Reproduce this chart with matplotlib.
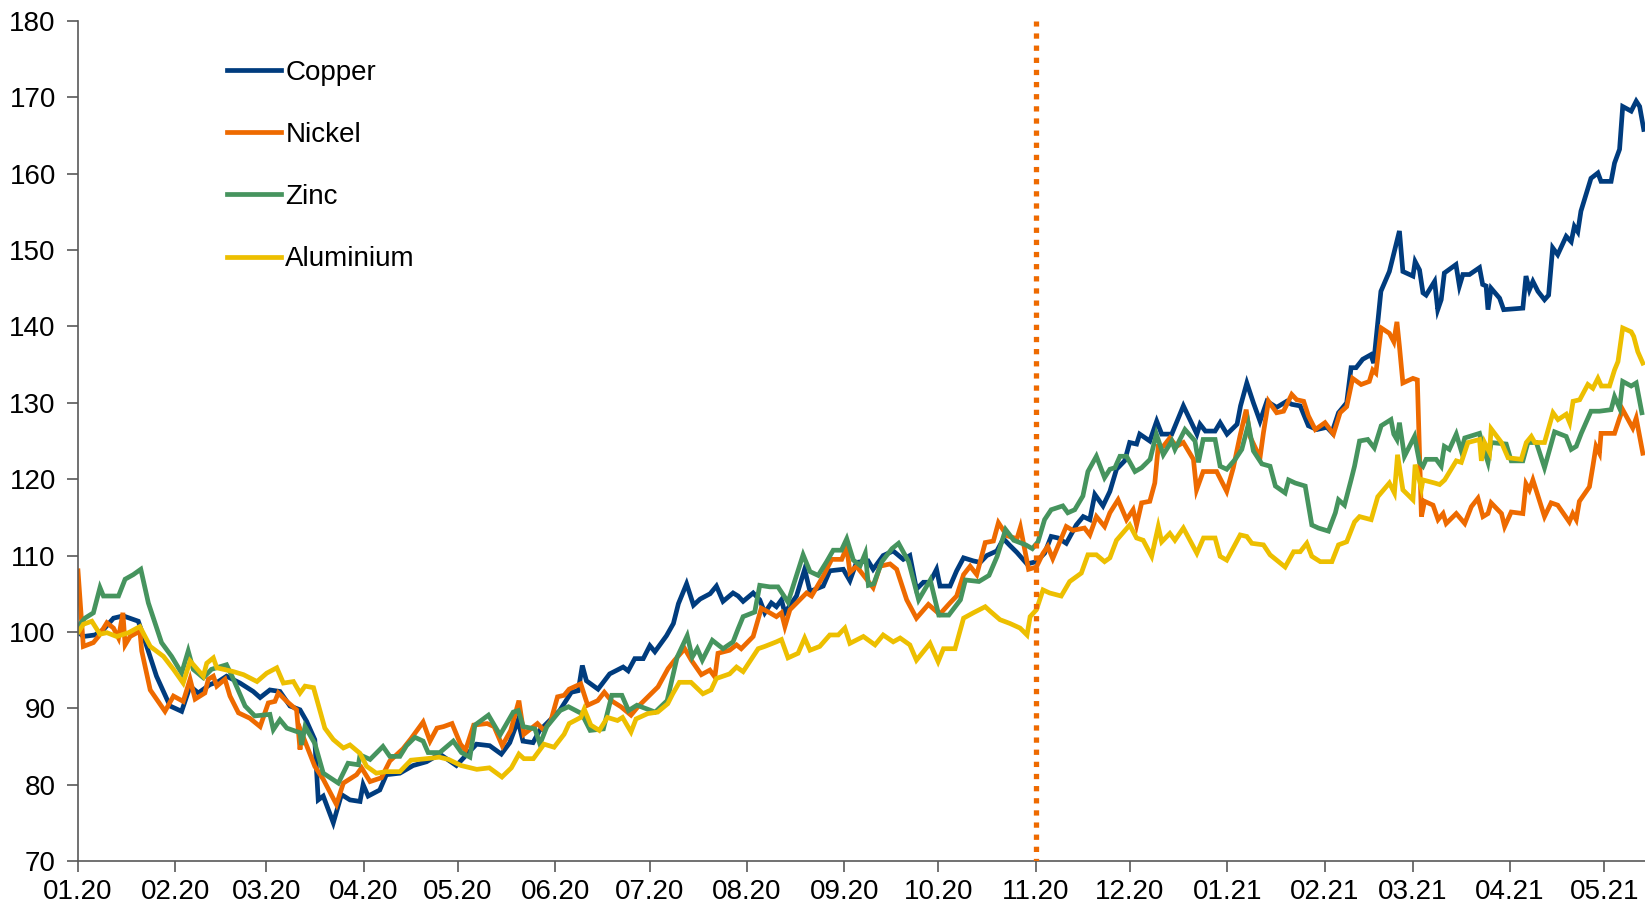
import numpy as np
import pandas as pd
import matplotlib
matplotlib.use("Agg")
import matplotlib.pyplot as plt
import matplotlib.dates as mdates

plt.rcParams['font.family'] = ['Liberation Sans', 'DejaVu Sans']

# ---- data: (days since 2020-01-01, index value; start = 100) ----
start = pd.Timestamp("2020-01-01")

copper_day = [0, 1.7, 5.4, 8.1, 11.3, 14.4, 19.2, 21.9, 25, 29.3, 33, 35.7, 38.3, 42, 44.7, 47.3, 51.6, 55.8, 58, 61.1,
              64.3, 67.5, 70.7, 72.8, 75.4, 76.5, 78.1, 81.3, 83.9, 86.6, 89.8, 90.8, 92.4, 96.1, 98.2, 102.5, 106.7, 111,
              115.2, 120.5, 126.9, 131.1, 134.8, 137.5, 140.1, 141.7, 144.9, 147, 150.2, 153.4, 157.1, 159.3, 160.6,
              161.9, 165.6, 169.3, 173.6, 175.2, 177.3, 180, 182.1, 183.7, 187.4, 189.6, 191.2, 193.8, 196, 198.1,
              201.3, 203.3, 205.4, 208.6, 210.2, 211.8, 215, 217.1, 218.7, 220.8, 222.4, 224, 225.1, 228.8, 231.4,
              233.1, 237.3, 239.4, 243.7, 245.8, 247.9, 251.6, 253.2, 256.4, 259.6, 262.8, 264.9, 267, 269.2, 271.3,
              273.4, 274.5, 277.7, 279.8, 282, 285.1, 287.3, 289.4, 292.6, 294.7, 296.8, 299, 302.2, 305.2, 307.8,
              309.9, 312.1, 314.7, 317.9, 320.1, 322.2, 323.8, 326.4, 328.6, 330.7, 333.3, 334.9, 337.1, 338.1,
              341.3, 343.5, 345.1, 348.3, 352, 356.3, 357.3, 359, 362.1, 363.7, 365.9, 369.1, 370.2, 372.2, 374.3,
              376.4, 378.6, 381.7, 384.9, 386.5, 389.2, 391.8, 394.5, 397.7, 399.3, 401.4, 404, 405.4, 407, 409.1,
              411.7, 412.6, 414.9, 417.6, 420.8, 421.9, 425.1, 425.8, 427.2, 428.3, 429.3, 432, 433, 434.1, 435.1,
              438.8, 439.9, 441, 443.1, 446.3, 447.3, 448.4, 449, 450, 452.7, 454, 460.1, 461.1, 462.2, 463.3,
              464.9, 467, 468.3, 469.6, 471.2, 473.9, 475.5, 476.5, 477.6, 478.6, 481.8, 484, 485, 488.2, 489.3,
              490.9, 491.9, 494.6, 496.2, 497.3, 498.6]
copper_val = [100, 99.4, 99.6, 100.3, 101.8, 102.1, 101.4, 98.1, 94.2, 90.3, 89.6, 92.9, 92, 93.1, 93.5, 94.2, 93.3, 92.2,
              91.4, 92.4, 92.2, 90.3, 89.8, 88.3, 85.9, 78, 78.5, 75, 78.7, 78, 77.8, 80, 78.5, 79.3, 81.3, 81.5, 82.5,
              83, 84, 82.5, 85.3, 85.1, 84, 85.5, 88.4, 85.7, 85.5, 87.1, 88.4, 89.7, 92.1, 92.3, 95.6, 93.6, 92.5,
              94.5, 95.4, 94.9, 96.5, 96.5, 98.2, 97.4, 99.5, 101.1, 103.7, 106.3, 103.5, 104.3, 105, 106, 104, 105.1,
              104.7, 104, 105.1, 104.2, 102.5, 103.8, 103.3, 104.2, 102.5, 104.7, 108.2, 105.3, 106, 108, 108.2,
              106.7, 109.1, 109.3, 108.2, 110, 110.6, 109.5, 110, 105.6, 106.5, 106.5, 108.2, 106, 106, 108, 109.7,
              109.3, 109.1, 110, 110.6, 112.2, 111.3, 110.4, 108.9, 109.2, 110.3, 112.5, 112.3, 111.6, 114, 115.1,
              114.7, 118, 116.5, 118.4, 121.3, 122.4, 124.8, 124.6, 125.9, 125, 127.6, 125.9, 125.9, 129.6, 125.9,
              127.2, 126.3, 126.3, 127.4, 125.9, 127.2, 129.6, 132.6, 130, 127.6, 130.2, 129.4, 130.2, 129.8, 129.6,
              127, 126.5, 126.8, 126.1, 128.7, 130, 134.6, 134.6, 135.7, 136.3, 135.2, 144.6, 147.2, 152.5, 147.2,
              146.6, 148.5, 147.4, 144.4, 144.1, 145.9, 142.2, 143.5, 147, 148.1, 145.3, 146.8, 146.8, 147.7, 145.5,
              145.3, 142.2, 145, 143.7, 142.2, 142.4, 146.6, 144.8, 145.9, 144.6, 143.5, 144.1, 150.3, 149.4, 151.8,
              151.1, 153.1, 152.4, 155.1, 159.4, 160.1, 159, 159, 161.4, 163.2, 168.8, 168.2, 169.5, 168.8, 165.8]

nickel_day = [0, 1.7, 4.9, 6.5, 9.2, 11.3, 12.9, 14.3, 15, 16.6, 19.7, 20.3, 23, 27.7, 30.4, 33.5, 35.7, 37.3, 40.4, 41.5,
              43.1, 44.2, 46.8, 48.4, 51.1, 54.7, 58, 60.6, 62.7, 63.8, 66.5, 69.6, 70.7, 71.2, 75.4, 78.1, 82.3, 84.5,
              88.7, 90.3, 93, 96.6, 99.3, 103.5, 106, 109.9, 112.1, 114.3, 116.4, 119.1, 121.8, 123.4, 126, 130.3,
              132.5, 135.1, 137.8, 140.4, 142, 146.3, 148.4, 150.6, 152.7, 154.8, 156.4, 160.1, 162.3, 165.5, 167.6,
              169.8, 172.9, 176.1, 178.3, 181.5, 184.7, 187.9, 190, 193.2, 195.3, 198.5, 201.2, 202.8, 203.8, 207.5,
              209.7, 211.2, 215, 217.6, 220.3, 222.4, 224, 225.1, 226.7, 232, 233.6, 237.3, 240, 243.2, 244.8, 245.8,
              247.9, 251.1, 253.2, 255.4, 258.6, 260.7, 263.9, 267, 270.8, 274.4, 277.7, 279.8, 282, 284.1, 286.2,
              288.9, 291.5, 293.1, 295.8, 299, 300.1, 302.7, 305.2, 307.3, 308.8, 310.4, 314.7, 316.8, 320.5, 322.2,
              324.3, 326.9, 328.6, 331.2, 333.9, 336, 337.1, 338.7, 341.3, 342.9, 344, 345.6, 347.7, 349.8, 352,
              355.2, 356.2, 358.3, 362.6, 365.8, 367.9, 370, 372, 373.2, 376.4, 377.5, 379.1, 381.7, 383.9, 386.5,
              388.1, 390.3, 391.8, 394, 397.1, 399.8, 401.9, 404, 405.9, 408.6, 411.2, 412.3, 413.3, 415, 417.6,
              419, 420, 420.8, 421.9, 425.1, 426.5, 427.8, 428.8, 431.5, 433.1, 434.7, 435.7, 438.9, 441.6, 443.7,
              445.8, 447.4, 449, 450, 453.3, 454.3, 456.4, 460.1, 461.1, 462.2, 463.3, 467, 469.1, 471.2, 474.9,
              476, 477.1, 478.1, 481.3, 482.4, 483.4, 484.5, 485, 489.3, 490.9, 491.9, 495.1, 496.2, 498.3]
nickel_val = [108, 98.1, 98.6, 99.4, 101.2, 100.5, 99.2, 102.5, 98.3, 99.4, 100.1, 97.5, 92.4, 89.6, 91.6, 90.9, 93.8,
              91.2, 92, 93.8, 94.2, 92.9, 93.8, 91.6, 89.4, 88.7, 87.6, 90.7, 90.9, 92, 90.9, 89.8, 84.6, 86.8, 82.4,
              80.7, 77.4, 80.2, 81.3, 82.2, 80.4, 80.9, 83.1, 84.7, 86, 88.2, 85.7, 87.4, 87.6, 88, 85.3, 84.5, 87.8,
              88, 87.6, 85.1, 87.1, 91, 86.6, 88, 87.1, 88.4, 91.5, 91.7, 92.5, 93.2, 90.4, 91, 92.1, 91, 90.2, 89.1,
              90.2, 91.5, 92.8, 95.2, 96.3, 97.8, 96.3, 94.4, 95, 94.1, 97.2, 97.6, 98.3, 97.8, 99.4, 103.1, 102.5,
              102, 102.5, 100.7, 102.9, 105.1, 104.7, 107.3, 109.5, 109.5, 111.1, 107.8, 108.6, 106.9, 105.8, 108.6,
              108.9, 108.2, 104.2, 101.8, 103.6, 102.3, 103.8, 104.7, 107.5, 108.6, 107.5, 111.7, 111.9, 114.3,
              112.6, 112.2, 113.7, 108.2, 108.5, 110.3, 111.2, 109.6, 113.8, 113.3, 113.6, 112.7, 115.1, 113.8,
              115.6, 117.3, 114.7, 116, 114, 116.9, 117.1, 119.5, 124.3, 124.3, 125.4, 124.3, 124.8, 122.6, 118.6,
              121, 121, 118.4, 121.5, 125.6, 129.1, 125.6, 122.8, 126.1, 130.2, 128.7, 128.9, 131.1, 130.4, 130.2,
              128.3, 126.5, 127.4, 125.9, 128.7, 129.5, 133.2, 132.4, 132.8, 134.3, 133.9, 139.8, 139.1, 138, 140.6,
              137.4, 132.6, 133.2, 133, 115.1, 117.1, 116.6, 114.7, 115.5, 114.2, 115.5, 114.2, 116.4, 117.5, 115.1,
              115.5, 116.9, 115.5, 113.8, 115.7, 115.5, 119.4, 118.6, 119.9, 115.1, 116.9, 116.6, 114.4, 115.5,
              114.7, 117.1, 119, 121.7, 124.3, 123.4, 126, 126, 128, 129.1, 126.7, 128, 123.4]

zinc_day = [0, 2.2, 4.9, 7, 8.1, 12.9, 15, 17.6, 20, 22.4, 26.6, 29.8, 33, 35.1, 36.7, 39.9, 42.5, 47.3, 49.5, 53.2,
            56.3, 61.1, 62.2, 64.3, 66.5, 70.7, 71.2, 72.3, 75.4, 78.1, 82.9, 86, 89.3, 89.8, 93, 97.1, 99.3, 102.5,
            104.6, 107.3, 109.9, 111.5, 115.2, 119.5, 122.1, 124.8, 126.4, 130.7, 134.4, 138.6, 140.2, 141.8, 145.5,
            147.1, 149.3, 153.5, 156.2, 160.4, 163.1, 167.3, 170, 173.2, 175.3, 178, 181.2, 183.8, 187.6, 190.8, 194,
            195.6, 197.2, 198.8, 202, 205.4, 208.6, 210.2, 211.8, 215.5, 217.1, 220.3, 222.9, 226.1, 228.8, 230.9,
            233.1, 235.7, 238.4, 240.5, 243.1, 244.8, 246.9, 249.1, 250.7, 251.7, 253.4, 256, 259.2, 261.3, 264.5,
            267.7, 271.4, 274.1, 277.3, 281, 282.6, 286.9, 290.1, 292.7, 295.4, 298, 301.8, 303.9, 305.7, 307.8,
            309.9, 313.6, 315.2, 317.4, 320, 321.6, 324.3, 326.9, 328.6, 330.2, 331.8, 333.9, 336.6, 338.7, 341.4,
            343.4, 345.6, 348.3, 349.3, 352.5, 355.7, 356.8, 358.3, 362.1, 363.7, 365.8, 368.5, 370.6, 372.7, 374.3,
            377, 379.6, 381.3, 384.4, 385.5, 387.6, 390.8, 392.9, 395, 398.2, 400.4, 401.4, 403.3, 405.4, 406.5,
            408.1, 410.7, 412.8, 415, 418.1, 419, 420, 420.8, 422.4, 425.6, 427.2, 428.3, 429.3, 432.5, 434.1,
            435.1, 436.7, 438.9, 440.5, 441.6, 446.3, 447.4, 449, 450, 454.8, 456.4, 460.1, 461.7, 464.4, 467,
            470.2, 473.9, 475.5, 477.1, 478.7, 481.8, 484.5, 488.2, 489.3, 490.9, 491.9, 494.6, 496.2, 498]
zinc_val = [100.7, 101.8, 102.5, 105.8, 104.7, 104.7, 106.9, 107.5, 108.2, 103.8, 98.6, 96.8, 94.6, 97.5, 95.1, 94, 95.1,
            95.7, 93.8, 90.3, 89, 89.2, 87.2, 88.5, 87.4, 86.8, 85.2, 87.6, 85.4, 81.5, 80.2, 82.8, 82.6, 83.9, 83.3,
            85, 83.7, 83.7, 85.1, 86.2, 85.7, 84.2, 84.2, 85.7, 84.2, 83.6, 87.8, 89.1, 86.5, 89.5, 89.7, 87.6, 87.3,
            85.3, 87.6, 89.7, 90.2, 89.3, 87.1, 87.3, 91.7, 91.7, 89.7, 90.4, 89.9, 89.5, 91, 96.7, 99.5, 96.7, 97.8,
            96.3, 98.9, 97.8, 98.7, 100.4, 102, 102.6, 106.1, 105.9, 105.9, 103.9, 107.4, 110.1, 107.9, 107.4, 109.2,
            110.7, 110.7, 112.2, 109.4, 108.7, 110.3, 106.1, 106.3, 109.2, 110.9, 111.6, 109.2, 104.2, 106.8, 102.2,
            102.2, 104.2, 106.8, 106.6, 107.4, 109.9, 113.4, 112, 111.4, 110.9, 111.8, 114.7, 116, 116.5, 115.6, 116,
            117.8, 121, 123, 120.2, 121.3, 121.5, 123, 123, 121, 121.5, 122.6, 125.9, 123.2, 125, 123.9, 126.5, 125,
            122.2, 125.2, 125.2, 121.7, 121.3, 122.6, 123.9, 127.2, 123.7, 122, 121.7, 119.1, 118.2, 119.9, 119.5,
            119.1, 114, 113.6, 113.2, 115.6, 117.3, 116.6, 119.9, 121.7, 125, 125.2, 124.1, 127, 127.8, 125.9, 125.2,
            127.4, 123, 125.6, 122.2, 121.7, 122.6, 122.6, 121.7, 124.3, 123.9, 125.9, 123.7, 125.4, 126, 124.3,
            122.2, 124.8, 124.6, 122.4, 122.4, 124.8, 124.8, 121.5, 126.2, 125.6, 123.9, 124.3, 126, 128.9, 128.9,
            129.1, 130.8, 129.3, 132.8, 132.2, 132.6, 128.7]

alu_day = [0, 1.7, 4.4, 7, 9.2, 12.3, 16.1, 19.7, 23, 27.2, 30.4, 33.5, 35.7, 39.9, 41, 43.1, 44.2, 49.5, 52.7, 57, 60.1,
           63.3, 65.4, 68.6, 70.7, 72.3, 75, 78.6, 81.3, 84.5, 86.6, 89.8, 91.9, 95, 98.2, 102.5, 106, 111, 115, 118,
           122, 127, 131, 135, 138, 140.4, 142, 145, 148.4, 151.6, 154.8, 156.4, 160.1, 161.2, 163.3, 166, 168.6,
           171.8, 173.4, 176.1, 177.7, 181.4, 184.6, 187.8, 189.4, 191.5, 195.2, 199, 201.6, 203.3, 207.5, 209.7,
           211.8, 216.6, 218.7, 222.4, 224, 226.1, 229.3, 231.4, 233.1, 236.2, 239.4, 242.1, 244.2, 245.8, 250.1,
           253.8, 256.4, 259.6, 261.8, 264.9, 267, 271.3, 273.9, 275.6, 279.3, 282, 285.1, 288.9, 290.5, 293.6,
           296.8, 300, 302.2, 303.2, 305.2, 307.3, 309.4, 313.1, 315.8, 319.5, 321.6, 324.3, 326.9, 328.6, 330.7,
           334.9, 337.1, 339.2, 341.9, 344, 345.1, 347.7, 349.3, 352, 354.1, 356.3, 358.4, 362.1, 363.7, 365.8,
           370.1, 372.2, 373.8, 377.5, 379.6, 384.4, 387.1, 389.2, 391.3, 392.9, 395.6, 399.3, 401.4, 404, 406.5,
           408.1, 411.8, 413.9, 417.6, 419.2, 420.2, 421.9, 425.1, 425.8, 427.8, 428.3, 432, 433.6, 435.2, 438.9,
           440.5, 442.6, 446.3, 446.9, 447.9, 449.5, 450, 453.3, 455.4, 459.6, 461.2, 462.8, 463.9, 467, 469.7,
           471.3, 473.9, 475, 476.1, 478.2, 480.8, 482.4, 484, 485.1, 487.7, 489.3, 490.4, 491.9, 494.6, 495.4,
           496.7, 498.3]
alu_val = [99.9, 101, 101.4, 99.7, 99.9, 99.4, 99.9, 100.7, 98.1, 96.8, 95.1, 93.3, 96.2, 94.2, 95.9, 96.6, 95.3, 94.8,
           94.4, 93.5, 94.6, 95.3, 93.3, 93.5, 92, 92.9, 92.7, 87.4, 85.9, 84.8, 85.2, 84.1, 82.4, 81.5, 81.7, 81.7,
           83.2, 83.4, 83.6, 83.3, 82.5, 82, 82.2, 81, 82.2, 84, 83.4, 83.4, 85.3, 84.9, 86.6, 88, 88.8, 89.9, 87.8,
           87.1, 88.8, 88.4, 88.8, 86.9, 88.6, 89.3, 89.5, 90.6, 91.9, 93.4, 93.4, 91.9, 92.4, 93.9, 94.5, 95.4, 94.8,
           97.8, 98.1, 98.7, 99, 96.6, 97.2, 99.2, 97.6, 98.1, 99.6, 99.6, 100.5, 98.5, 99.4, 98.3, 99.6, 98.7, 99.2,
           98.3, 96.3, 98.5, 96.1, 97.8, 97.8, 101.8, 102.5, 103.3, 102.7, 101.6, 101.1, 100.5, 99.6, 102, 102.9,
           105.5, 105.1, 104.7, 106.6, 107.7, 110.1, 110.1, 109.2, 109.7, 112, 114, 112.3, 112, 109.9, 113.8, 111.8,
           112.9, 112, 113.6, 112, 110.3, 112.3, 112.3, 109.9, 109.4, 112.7, 112.5, 111.6, 111.4, 110.1, 108.5,
           110.5, 110.5, 111.6, 109.9, 109.2, 109.2, 111.4, 111.8, 114.4, 115.1, 114.7, 117.7, 119.5, 118.2, 123.2,
           118.6, 117.3, 121.9, 118.8, 119.9, 119.5, 119.3, 119.9, 122.4, 122.2, 124.8, 125.2, 122.4, 124.8, 123.5,
           126.6, 124.8, 122.8, 122.6, 124.8, 125.6, 124.8, 124.8, 128.7, 127.8, 128.5, 127.4, 130.2, 130.4, 132.4,
           131.9, 133.2, 132.2, 132.2, 134.3, 135.4, 139.8, 139.3, 138.7, 136.7, 135.2]

labels = ["Copper", "Nickel", "Zinc", "Aluminium"]
colors = ["#003C7E", "#EE6A00", "#46945E", "#EDBF00"]
marker_day = 305          # vertical marker: 11.20
y_ticks = list(range(70, 181, 10))
x_end_day = 499


def to_dates(days):
    return start + pd.to_timedelta(np.asarray(days, dtype=float), unit="D")


series = [(copper_day, copper_val), (nickel_day, nickel_val), (zinc_day, zinc_val), (alu_day, alu_val)]

W, H = 1645, 906
fig = plt.figure(figsize=(W / 100, H / 100), dpi=100)
ax = fig.add_axes([78 / W, 1 - 861 / H, (W - 78) / W, (861 - 21) / H])

LW = 3.4
for (d, v), lab, col in zip(series, labels, colors):
    ax.plot(to_dates(d), v, color=col, lw=LW, label=lab, solid_joinstyle="miter")

mx = to_dates([marker_day])[0]
ax.axvline(mx, color="#EE6A00", lw=3.8, linestyle=(0.5, (1, 1.3)), zorder=5)

ax.set_ylim(70, 180)
ax.set_yticks(y_ticks)
ax.set_xlim(start, start + pd.Timedelta(days=x_end_day))
ax.xaxis.set_major_locator(mdates.MonthLocator())
ax.xaxis.set_major_formatter(mdates.DateFormatter("%m.%y"))

for s in ["top", "right"]:
    ax.spines[s].set_visible(False)
for s in ["left", "bottom"]:
    ax.spines[s].set_color("#595959")
    ax.spines[s].set_linewidth(1.2)
ax.tick_params(axis="both", colors="#595959", labelcolor="black", labelsize=20, length=8, width=1.2)
ax.tick_params(axis="y", pad=8)
ax.tick_params(axis="x", pad=5)

leg = ax.legend(loc="upper left", bbox_to_anchor=(227 / W, 1 - 60 / H), bbox_transform=fig.transFigure,
                frameon=False, fontsize=20, handlelength=1.95, handletextpad=0.15, labelspacing=1.3,
                borderpad=0, borderaxespad=0)
for line in leg.get_lines():
    line.set_linewidth(LW)

fig.savefig("out.png", dpi=100)
